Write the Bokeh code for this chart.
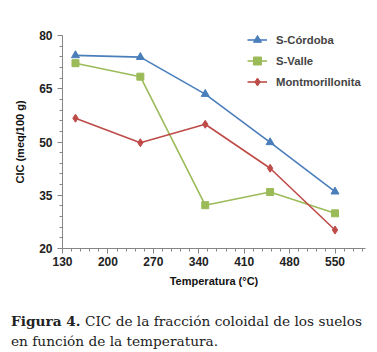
from bokeh.plotting import figure
from bokeh.models import Range1d, Legend, LegendItem, FixedTicker, Div
from bokeh.layouts import column
from bokeh.embed import file_html
from bokeh.resources import INLINE

temps = [150, 250, 350, 450, 550]
s_cordoba = [74.4, 73.9, 63.5, 49.9, 36.0]
s_valle = [72.2, 68.4, 32.2, 35.9, 29.9]
montmor = [56.7, 49.8, 55.0, 42.6, 25.2]
series_names = ["S-Córdoba", "S-Valle", "Montmorillonita"]
x_ticks = [130, 200, 270, 340, 410, 480, 550]
y_ticks = [20, 35, 50, 65, 80]
caption_bold = "Figura 4."
caption_rest = "CIC de la fracción coloidal de los suelos en función de la temperatura."

p = figure(width=377, height=300, output_backend="svg", toolbar_location=None,
           x_range=Range1d(130, 597), y_range=Range1d(20, 80),
           min_border_left=62, min_border_right=12, min_border_top=35, min_border_bottom=52)
p.outline_line_color = None
p.xgrid.visible = False
p.ygrid.visible = False
p.background_fill_color = "white"
p.border_fill_color = "white"

blue, green, red = "#4a7ebb", "#9bbb59", "#be4b48"
r1 = p.line(temps, s_cordoba, line_color=blue, line_width=1.6)
m1 = p.scatter(temps, s_cordoba, marker="triangle", size=8, color=blue)
r2 = p.line(temps, s_valle, line_color=green, line_width=1.6)
m2 = p.scatter(temps, s_valle, marker="square", size=7, color=green)
r3 = p.line(temps, montmor, line_color=red, line_width=1.6)
m3 = p.scatter(temps, montmor, marker="diamond", size=8, color=red)

for ax in (p.xaxis[0], p.yaxis[0]):
    ax.axis_line_color = "#868686"
    ax.major_tick_line_color = "#868686"
    ax.minor_tick_line_color = "#868686"
    ax.major_tick_in = 0
    ax.major_tick_out = 5
    ax.minor_tick_in = 0
    ax.minor_tick_out = 3
    ax.major_label_text_font = "Liberation Sans"
    ax.major_label_text_font_style = "bold"
    ax.major_label_text_font_size = "12px"
    ax.major_label_text_color = "#222222"
    ax.axis_label_text_font = "Liberation Sans"
    ax.axis_label_text_font_style = "bold"
    ax.axis_label_text_font_size = "11px"
    ax.axis_label_text_color = "#111111"

p.xaxis.ticker = FixedTicker(ticks=x_ticks, minor_ticks=list(range(130, 600, 14)))
p.yaxis.ticker = FixedTicker(ticks=y_ticks, minor_ticks=list(range(20, 81, 3)))
p.xaxis.axis_label = "Temperatura (°C)"
p.yaxis.axis_label = "CIC (meq/100 g)"
p.xaxis.major_label_standoff = 3
p.xaxis.axis_label_standoff = 6
p.yaxis.axis_label_standoff = 10

legend = Legend(items=[LegendItem(label=series_names[0], renderers=[r1, m1]),
                       LegendItem(label=series_names[1], renderers=[r2, m2]),
                       LegendItem(label=series_names[2], renderers=[r3, m3])],
                location=(185, 156), border_line_color=None, background_fill_alpha=0,
                label_text_font="Liberation Sans", label_text_font_style="bold",
                label_text_font_size="11.3px", glyph_width=20, glyph_height=21,
                label_height=21, spacing=0, padding=0, margin=0, label_standoff=9)
p.add_layout(legend, "center")

cap = Div(text=f"<b>{caption_bold}</b> <span>{caption_rest}</span>", width=377, height=52,
          margin=0,
          styles={"font-family": "'DejaVu Serif'", "font-size": "13.7px",
                  "line-height": "20px", "color": "#222222",
                  "padding": "11px 6px 0 11px", "box-sizing": "border-box"})

layout = column(p, cap, spacing=0)
open("out.html", "w").write(file_html(layout, INLINE))
